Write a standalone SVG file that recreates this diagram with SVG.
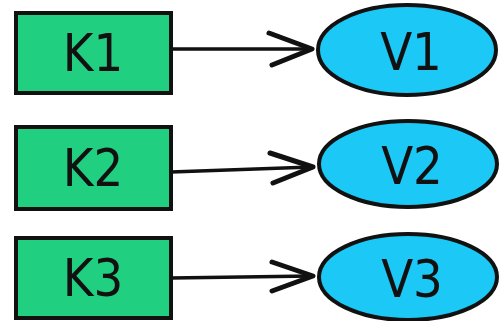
<svg xmlns="http://www.w3.org/2000/svg" width="501" height="321" viewBox="0 0 501 321">
  <style>
    .key rect { fill: #21cf80; stroke: #111; stroke-width: 4; }
    .val ellipse { fill: #1cc8f5; stroke: #111; stroke-width: 4; }
    text { font-family: "DejaVu Sans Condensed", "DejaVu Sans", sans-serif; font-size: 52px; fill: #111; text-anchor: middle; dominant-baseline: central; }
    .link { fill: none; stroke: #111; stroke-width: 3.5; stroke-linecap: round; stroke-linejoin: round; }
    .head { fill: none; stroke: #111; stroke-width: 5; stroke-linecap: round; stroke-linejoin: round; }
  </style>
  <rect width="501" height="321" fill="#fff"/>

  <g id="k1" class="key"><rect x="16" y="13" width="155" height="80"/><text x="93" y="53">K1</text></g>
  <g id="k2" class="key"><rect x="16" y="127" width="155" height="82"/><text x="93" y="168">K2</text></g>
  <g id="k3" class="key"><rect x="16" y="238" width="155" height="80"/><text x="93" y="278">K3</text></g>

  <g id="v1" class="val"><ellipse cx="407" cy="50" rx="89" ry="45"/><text x="411" y="52">V1</text></g>
  <g id="v2" class="val"><ellipse cx="408" cy="164" rx="89" ry="43"/><text x="412" y="166">V2</text></g>
  <g id="v3" class="val"><ellipse cx="408" cy="277" rx="89" ry="43"/><text x="412" y="279">V3</text></g>

  <g id="connectors">
    <path class="link" d="M171 49 L311 49"/>
    <path class="head" d="M269 33 L312 49 L272 65"/>
    <path class="link" d="M171 172 L312 167"/>
    <path class="head" d="M270 153 L313 167 L273 183"/>
    <path class="link" d="M171 278 L312 276"/>
    <path class="head" d="M272 262 L313 276 L272 291"/>
  </g>
</svg>
